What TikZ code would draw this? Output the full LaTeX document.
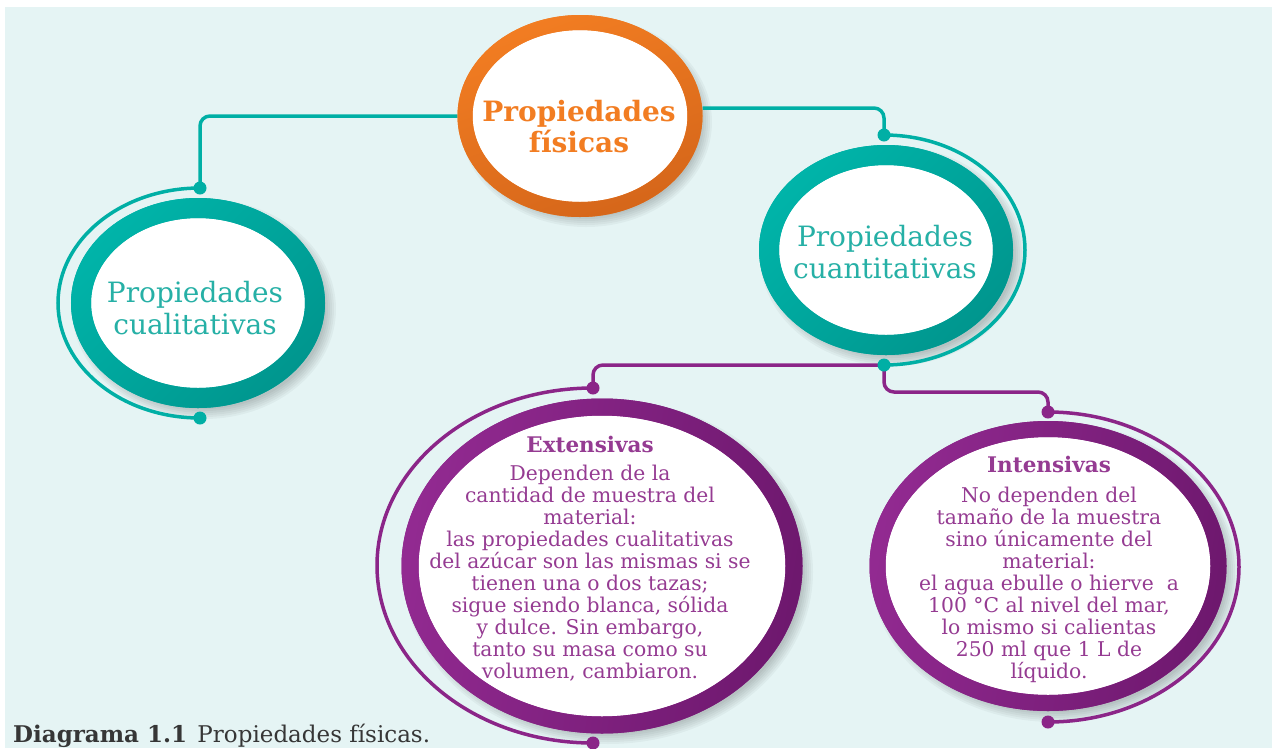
\documentclass[tikz,border=0pt]{standalone}
\usepackage{fontspec}
\setmainfont{DejaVu Serif}
\usetikzlibrary{shapes.geometric,calc}
\definecolor{bgc}{HTML}{E5F4F4}
\definecolor{orng}{HTML}{F27D22}
\definecolor{orngd}{HTML}{D5661A}
\definecolor{tealc}{HTML}{00AFA5}
\definecolor{teall}{HTML}{00B4A9}
\definecolor{teald}{HTML}{00968E}
\definecolor{tealt}{HTML}{26B0A6}
\definecolor{purp}{HTML}{8B2588}
\definecolor{purpl}{HTML}{922A91}
\definecolor{purpd}{HTML}{6E186E}
\definecolor{purpt}{HTML}{953B92}
\definecolor{capc}{HTML}{363636}
\pgfdeclarelayer{back}
\pgfsetlayers{back,main}
\newcommand{\ringshade}[3]{%
  \foreach \k in {0,...,5}{%
    \fill[black, fill opacity=0.035] ($#1+(6,-6)$) ellipse [x radius={#2+\k*2}, y radius={#3+\k*2}];%
  }%
}
% center, outer rx, outer ry, inner rx, inner ry, light, dark, angle
\newcommand{\ringfill}[8]{%
  \shade[even odd rule, top color=#6, middle color=#6!75!#7, bottom color=#7, shading angle=#8]
    #1 ellipse [x radius=#2, y radius=#3] #1 ellipse [x radius=#4, y radius=#5];%
}
\newcommand{\ttlfont}{\fontsize{21.5}{22}\selectfont\bfseries}
\begin{document}
\begin{tikzpicture}[x=1pt,y=1pt,
 ring/.style={ellipse, fill=white, inner sep=0pt},
 tline/.style={draw=tealc, line width=3.5pt, rounded corners=10pt},
 pline/.style={draw=purp, line width=3.5pt, rounded corners=10pt},
 tdot/.style={circle, fill=tealc, minimum size=13pt, inner sep=0pt},
 pdot/.style={circle, fill=purp, minimum size=13pt, inner sep=0pt},
 bigtxt/.style={align=center, font=\fontsize{28}{32}\selectfont},
 smalltxt/.style={align=center, text=purpt, font=\fontsize{20.3}{22}\selectfont},
]
\useasboundingbox (0,0) rectangle (1275,-748);
\begin{pgfonlayer}{back}
\fill[white] (0,0) rectangle (1275,-748);
\fill[bgc] (5,-7) rectangle (1272,-748);
\ringshade{(580,-116)}{116}{95}
\ringshade{(198,-303)}{122}{100}
\ringshade{(886,-250)}{122}{100}
\ringshade{(602,-566)}{195}{162}
\ringshade{(1048,-566)}{173}{140}
\end{pgfonlayer}

% rings
\node[ring, draw=orng, line width=15pt, minimum width=230pt, minimum height=187pt] (fis) at (580,-116) {};
\ringfill{(580,-116)}{122.5}{101}{107.5}{86}{orng}{orngd}{20}
\node[ring, draw=tealc, line width=20pt, minimum width=234pt, minimum height=190pt] (cual) at (198,-303) {};
\ringfill{(198,-303)}{127}{105}{107}{85}{teall}{teald}{45}
\node[ring, draw=tealc, line width=20pt, minimum width=234pt, minimum height=190pt] (cuan) at (886,-250) {};
\ringfill{(886,-250)}{127}{105}{107}{85}{teall}{teald}{45}
\node[ring, draw=purp, line width=17pt, minimum width=384pt, minimum height=318pt] (ext) at (602,-566) {};
\ringfill{(602,-566)}{200.5}{167.5}{183.5}{150.5}{purpl}{purpd}{80}
\node[ring, draw=purp, line width=16pt, minimum width=341pt, minimum height=274pt] (int) at (1048,-566) {};
\ringfill{(1048,-566)}{178.5}{145}{162.5}{129}{purpl}{purpd}{80}

% texts
\node[bigtxt, text=orng, font=\fontsize{28}{31}\selectfont\bfseries] (fist) at (579,-127) {Propiedades\\físicas};
\node[bigtxt, text=tealt] (cualt) at (195,-308) {Propiedades\\cualitativas};
\node[bigtxt, text=tealt] (cuant) at (885,-252) {Propiedades\\cuantitativas};
\node[smalltxt] (extt) at (590,-559) {{\ttlfont Extensivas}\\[6pt]
Dependen de la\\
cantidad de muestra del\\
material:\\
las propiedades cualitativas\\
del azúcar son las mismas si se\\
tienen una o dos tazas;\\
sigue siendo blanca, sólida\\
y dulce. Sin embargo,\\
tanto su masa como su\\
volumen, cambiaron.};
\node[smalltxt] (intt) at (1049,-569) {{\ttlfont Intensivas}\\[8pt]
No dependen del\\
tamaño de la muestra\\
sino únicamente del\\
material:\\
el agua ebulle o hierve\ \ a\\
100 °C al nivel del mar,\\
lo mismo si calientas\\
250 ml que 1 L de\\
líquido.};

% dot positions
\coordinate (ltop) at (200,-188);
\coordinate (lbot) at (200,-418);
\coordinate (rtop) at (884,-135);
\coordinate (rbot) at (884,-365);
\coordinate (etop) at (593,-388);
\coordinate (ebot) at (593,-743);
\coordinate (itop) at (1048,-412);
\coordinate (ibot) at (1048,-722);

\begin{pgfonlayer}{back}
\draw[tline] (fis.west) -| (ltop);
\draw[tline] ([yshift=8pt]fis.east) -| (rtop);
\draw[pline] (rbot) -| (etop);
\draw[pline] (rbot) -- ++(0,-27) -| (itop);
\end{pgfonlayer}

% thin arcs
\draw[tline] (ltop) arc[start angle=90, end angle=270, x radius=142, y radius=115];
\draw[tline] (rtop) arc[start angle=90, end angle=-90, x radius=141, y radius=115];
\draw[pline] (etop) arc[start angle=90, end angle=270, x radius=216, y radius=177.5];
\draw[pline] (itop) arc[start angle=90, end angle=-90, x radius=191, y radius=155];

% dots
\node[tdot] (d1) at (ltop) {};
\node[tdot] (d2) at (lbot) {};
\node[tdot] (d3) at (rtop) {};
\node[tdot] (d4) at (rbot) {};
\node[pdot] (d5) at (etop) {};
\node[pdot] (d6) at (ebot) {};
\node[pdot] (d7) at (itop) {};
\node[pdot] (d8) at (ibot) {};

% caption
\node[anchor=base west, inner sep=0pt, text=capc, font=\fontsize{23}{24}\selectfont] (cap) at (13,-742) {\textbf{Diagrama 1.1}\hspace{0.45em}Propiedades físicas.};
\end{tikzpicture}
\end{document}
